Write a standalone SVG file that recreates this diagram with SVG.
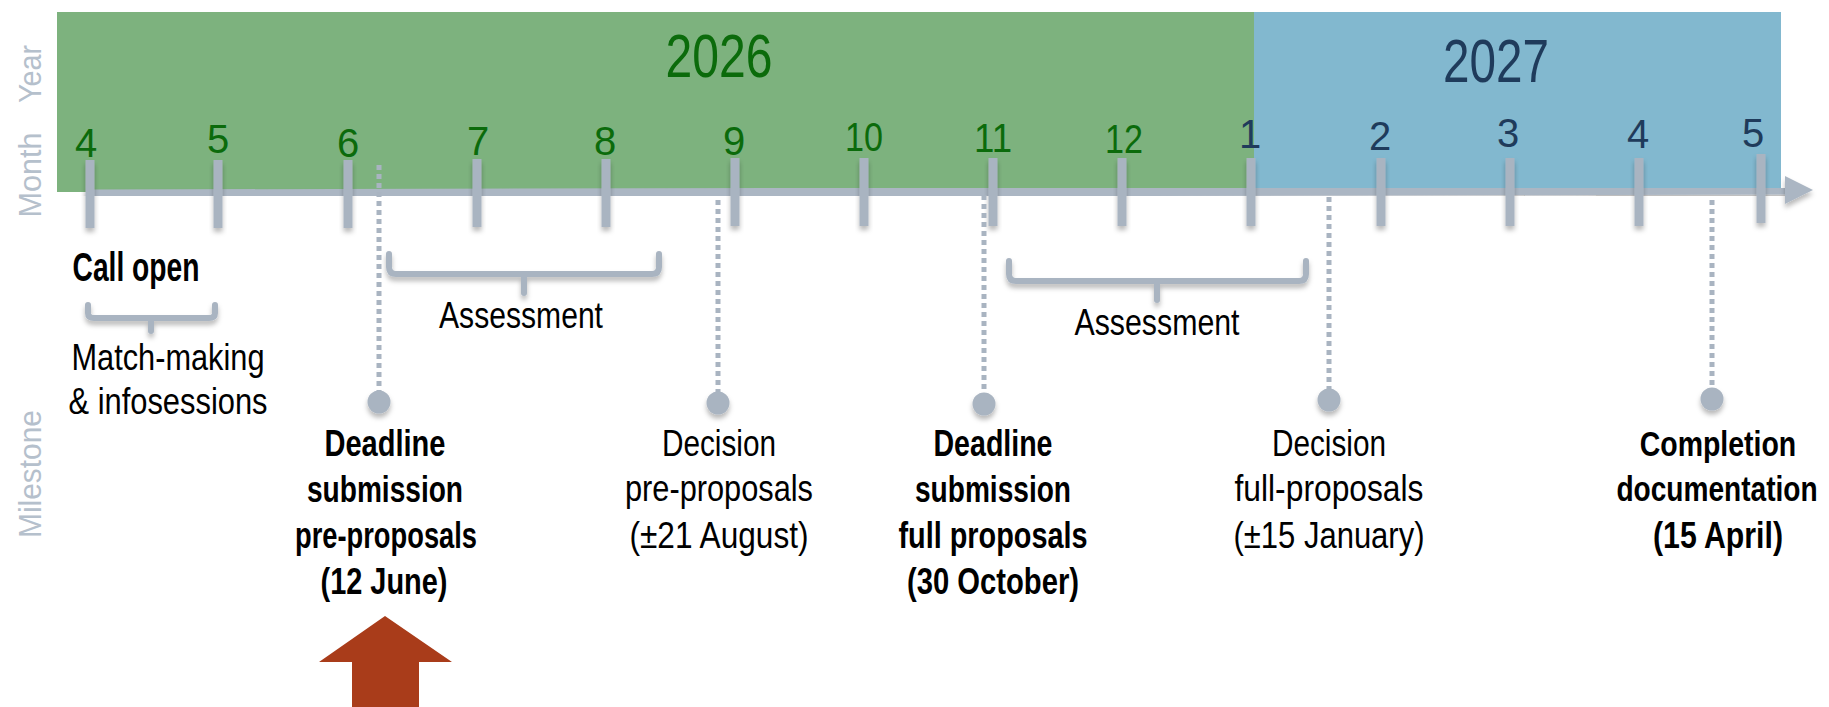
<svg xmlns="http://www.w3.org/2000/svg" width="1829" height="707" viewBox="0 0 1829 707">
<defs>
<filter id="sh" x="-50%" y="-50%" width="200%" height="200%">
<feDropShadow dx="0" dy="4" stdDeviation="2.5" flood-color="#000" flood-opacity="0.28"/>
</filter>
<style>
text{font-family:"Liberation Sans",Arial,sans-serif;}
.mg{fill:#0b6b0b;font-size:40px;text-anchor:middle;}
.mb{fill:#1f3b5b;font-size:40px;text-anchor:middle;}
.yr{font-size:61px;text-anchor:middle;}
.side{fill:#b5c0cc;font-size:32px;text-anchor:middle;}
.lbl{fill:#000;font-size:36px;text-anchor:middle;}
.b{font-weight:bold;}
.tick{fill:#a9b4c1;filter:url(#sh);}
.axis{stroke:#abb6c3;stroke-width:9;fill:none;filter:url(#sh);}
.brace{stroke:#a9b4c1;stroke-width:6;fill:none;stroke-linecap:round;stroke-linejoin:round;filter:url(#sh);}
.dot{stroke:#a9b4c1;stroke-width:5;stroke-dasharray:5 4;fill:none;}
.pin{fill:#a9b4c1;filter:url(#sh);}
</style>
</defs>

<g id="bands">
<rect x="57" y="12" width="1197" height="180" fill="#7db27e"/>
<rect x="1254" y="12" width="527" height="180" fill="#82b8cf"/>
<text class="yr" x="719" y="77" fill="#0b6b0b" textLength="107" lengthAdjust="spacingAndGlyphs">2026</text>
<text class="yr" x="1496" y="82" fill="#1f3b5b" textLength="106" lengthAdjust="spacingAndGlyphs">2027</text>
</g>

<g id="side-labels">
<text class="side" transform="translate(41,74) rotate(-90)" textLength="58" lengthAdjust="spacingAndGlyphs">Year</text>
<text class="side" transform="translate(41,175) rotate(-90)" textLength="85" lengthAdjust="spacingAndGlyphs">Month</text>
<text class="side" transform="translate(41,474) rotate(-90)" textLength="128" lengthAdjust="spacingAndGlyphs">Milestone</text>
</g>

<g id="axis">
<path class="axis" d="M86,194 L1788,190"/>
<polygon points="1785,176 1813,190 1785,204" fill="#abb6c3" filter="url(#sh)"/>
</g>

<g id="ticks">
<rect class="tick" x="85.5" y="160" width="9" height="68"/>
<rect class="tick" x="213.5" y="160" width="9" height="68"/>
<rect class="tick" x="343.5" y="160" width="9" height="68"/>
<rect class="tick" x="472.5" y="159" width="9" height="68"/>
<rect class="tick" x="601.5" y="159" width="9" height="68"/>
<rect class="tick" x="730.5" y="158" width="9" height="68"/>
<rect class="tick" x="859.5" y="158" width="9" height="68"/>
<rect class="tick" x="988.5" y="158" width="9" height="68"/>
<rect class="tick" x="1117.5" y="158" width="9" height="68"/>
<rect class="tick" x="1246.5" y="158" width="9" height="68"/>
<rect class="tick" x="1376.5" y="158" width="9" height="68"/>
<rect class="tick" x="1505.5" y="158" width="9" height="68"/>
<rect class="tick" x="1634.5" y="158" width="9" height="68"/>
<rect class="tick" x="1756.5" y="154" width="9" height="69"/>
</g>

<g id="months">
<text class="mg" x="86" y="157">4</text>
<text class="mg" x="218" y="153">5</text>
<text class="mg" x="348" y="157">6</text>
<text class="mg" x="478" y="155">7</text>
<text class="mg" x="605" y="155">8</text>
<text class="mg" x="734" y="155">9</text>
<text class="mg" x="864" y="151" textLength="38" lengthAdjust="spacingAndGlyphs">10</text>
<text class="mg" x="993" y="152" textLength="38" lengthAdjust="spacingAndGlyphs">11</text>
<text class="mg" x="1124" y="153" textLength="38" lengthAdjust="spacingAndGlyphs">12</text>
<text class="mb" x="1250" y="148">1</text>
<text class="mb" x="1380" y="150">2</text>
<text class="mb" x="1508" y="147">3</text>
<text class="mb" x="1638" y="148">4</text>
<text class="mb" x="1753" y="147">5</text>
</g>

<g id="connectors">
<line class="dot" x1="379" y1="165" x2="379" y2="400"/>
<line class="dot" x1="718" y1="200" x2="718" y2="400"/>
<line class="dot" x1="984" y1="195" x2="984" y2="400"/>
<line class="dot" x1="1329" y1="197" x2="1329" y2="398"/>
<line class="dot" x1="1712" y1="200" x2="1712" y2="397"/>
</g>

<g id="call-open">
<text class="lbl b" x="136" y="281" style="font-size:40px" textLength="127" lengthAdjust="spacingAndGlyphs">Call open</text>
<path class="brace" d="M88,305 V313 Q88,318 94,318 H209 Q215,318 215,313 V305 M151,318 V331"/>
<text class="lbl" x="168" y="370" textLength="193" lengthAdjust="spacingAndGlyphs">Match-making</text>
<text class="lbl" x="168" y="414" textLength="199" lengthAdjust="spacingAndGlyphs">&amp; infosessions</text>
</g>

<g id="assessment-1">
<path class="brace" d="M389,254 V267 Q389,274 396,274 H652 Q659,274 659,267 V254 M524,274 V293"/>
<text class="lbl" x="521" y="328" textLength="164" lengthAdjust="spacingAndGlyphs">Assessment</text>
</g>

<g id="assessment-2">
<path class="brace" d="M1009,261 V274 Q1009,281 1016,281 H1299 Q1306,281 1306,274 V261 M1157,281 V300"/>
<text class="lbl" x="1157" y="335" textLength="165" lengthAdjust="spacingAndGlyphs">Assessment</text>
</g>

<g id="deadline-pre">
<circle class="pin" cx="379" cy="402" r="11.5"/>
<text class="lbl b" x="385" y="456" textLength="121" lengthAdjust="spacingAndGlyphs">Deadline</text>
<text class="lbl b" x="385" y="502" textLength="156" lengthAdjust="spacingAndGlyphs">submission</text>
<text class="lbl b" x="386" y="548" textLength="182" lengthAdjust="spacingAndGlyphs">pre-proposals</text>
<text class="lbl b" x="384" y="594" textLength="127" lengthAdjust="spacingAndGlyphs">(12 June)</text>
</g>

<g id="decision-pre">
<circle class="pin" cx="718" cy="403" r="11.5"/>
<text class="lbl" x="719" y="456" textLength="114" lengthAdjust="spacingAndGlyphs">Decision</text>
<text class="lbl" x="719" y="501" textLength="188" lengthAdjust="spacingAndGlyphs">pre-proposals</text>
<text class="lbl" x="719" y="548" textLength="179" lengthAdjust="spacingAndGlyphs">(±21 August)</text>
</g>

<g id="deadline-full">
<circle class="pin" cx="984" cy="404" r="11.5"/>
<text class="lbl b" x="993" y="456" textLength="119" lengthAdjust="spacingAndGlyphs">Deadline</text>
<text class="lbl b" x="993" y="502" textLength="156" lengthAdjust="spacingAndGlyphs">submission</text>
<text class="lbl b" x="993" y="548" textLength="189" lengthAdjust="spacingAndGlyphs">full proposals</text>
<text class="lbl b" x="993" y="594" textLength="172" lengthAdjust="spacingAndGlyphs">(30 October)</text>
</g>

<g id="decision-full">
<circle class="pin" cx="1329" cy="400" r="11.5"/>
<text class="lbl" x="1329" y="456" textLength="114" lengthAdjust="spacingAndGlyphs">Decision</text>
<text class="lbl" x="1329" y="501" textLength="189" lengthAdjust="spacingAndGlyphs">full-proposals</text>
<text class="lbl" x="1329" y="548" textLength="191" lengthAdjust="spacingAndGlyphs">(±15 January)</text>
</g>

<g id="completion">
<circle class="pin" cx="1712" cy="399" r="11.5"/>
<text class="lbl b" transform="translate(1718,456) scale(0.79,1)">Completion</text>
<text class="lbl b" transform="translate(1717,501) scale(0.78,1)">documentation</text>
<text class="lbl b" x="1718" y="548" textLength="130" lengthAdjust="spacingAndGlyphs">(15 April)</text>
</g>

<g id="current-marker">
<polygon points="385,616 452,662 419,662 419,707 352,707 352,662 319,662" fill="#a93c1a"/>
</g>
</svg>
